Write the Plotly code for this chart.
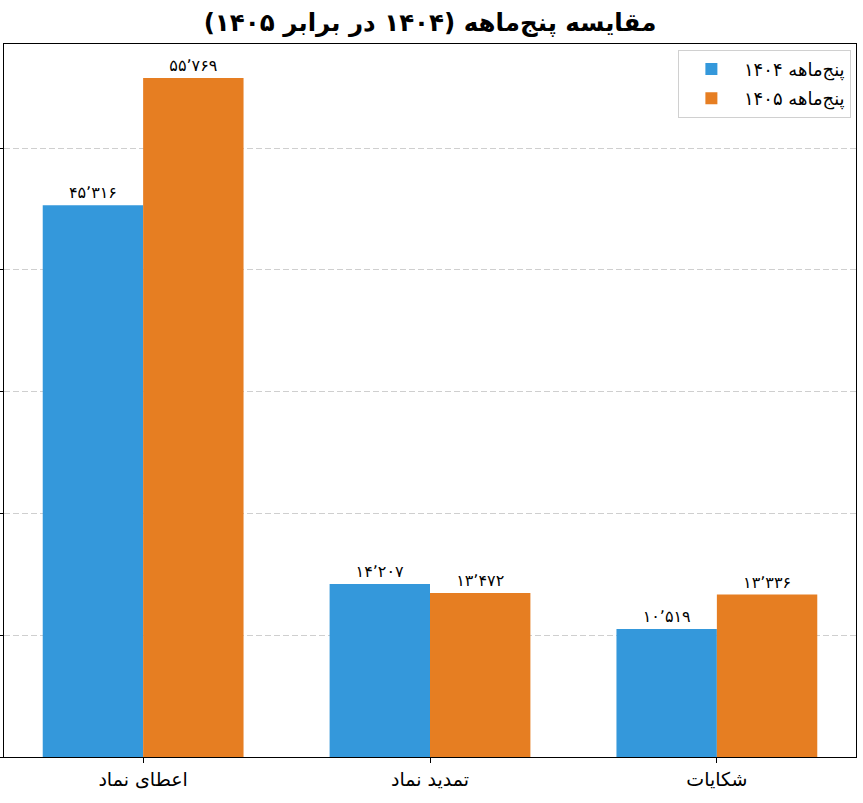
import plotly.graph_objects as go

categories = ["اعطای نماد", "تمدید نماد", "شکایات"]
series_names = ["پنج‌ماهه ۱۴۰۴", "پنج‌ماهه ۱۴۰۵"]
values_1404 = [45316, 14207, 10519]
values_1405 = [55769, 13472, 13336]
colors = ["#3498db", "#e67e22"]
title_text = "مقایسه پنج‌ماهه (۱۴۰۴ در برابر ۱۴۰۵)"

RLE, PDF = "\u202b", "\u202c"
FA_DIGITS = str.maketrans("0123456789,", "۰۱۲۳۴۵۶۷۸۹٬")


def fa_num(v):
    return f"{v:,}".translate(FA_DIGITS)


FONT = "DejaVu Sans"
fig = go.Figure()
for name, vals, col in zip(series_names, [values_1404, values_1405], colors):
    fig.add_trace(go.Bar(
        x=categories, y=vals, name=RLE + name + PDF,
        marker=dict(color=col, line=dict(width=0)),
        text=[fa_num(v) for v in vals], textposition="outside",
        textfont=dict(family=FONT, size=16, color="black"),
        cliponaxis=False, legendgroup=name,
    ))

ymax = max(values_1404 + values_1405) * 1.05
fig.update_layout(
    width=863, height=803,
    margin=dict(l=4, r=7, t=44, b=46, autoexpand=False),
    paper_bgcolor="white", plot_bgcolor="white",
    barmode="group", bargap=0.3, bargroupgap=0,
    font=dict(family=FONT, color="black"),
    title=dict(text="<b>" + RLE + title_text + PDF + "</b>", x=0.5, xref="paper",
               y=1 - 22 / 803, yref="container", yanchor="middle",
               font=dict(family=FONT, size=24.5, color="black")),
    legend=dict(x=0.994, y=0.992, xanchor="right", yanchor="top",
                bgcolor="white", bordercolor="#d0d0d0", borderwidth=1,
                font=dict(family=FONT, size=18), traceorder="grouped",
                tracegroupgap=3, itemwidth=55),
    showlegend=True,
)
fig.update_xaxes(
    range=[-0.485, 2.485], showline=True, mirror=True, linecolor="black",
    linewidth=1, ticks="outside", ticklen=5, tickcolor="black",
    tickfont=dict(family=FONT, size=19, color="black"), showgrid=False,
)
fig.update_yaxes(
    range=[0, ymax], dtick=10000, showline=True, mirror=True, linecolor="black",
    linewidth=1, ticks="outside", ticklen=5, tickcolor="black",
    showticklabels=False, showgrid=True, gridcolor="#cfcfcf", griddash="6px,3px",
    gridwidth=1, zeroline=False,
)
fig.write_html("out.html", config={"displayModeBar": False},
               post_script="document.body.style.margin='0';")
